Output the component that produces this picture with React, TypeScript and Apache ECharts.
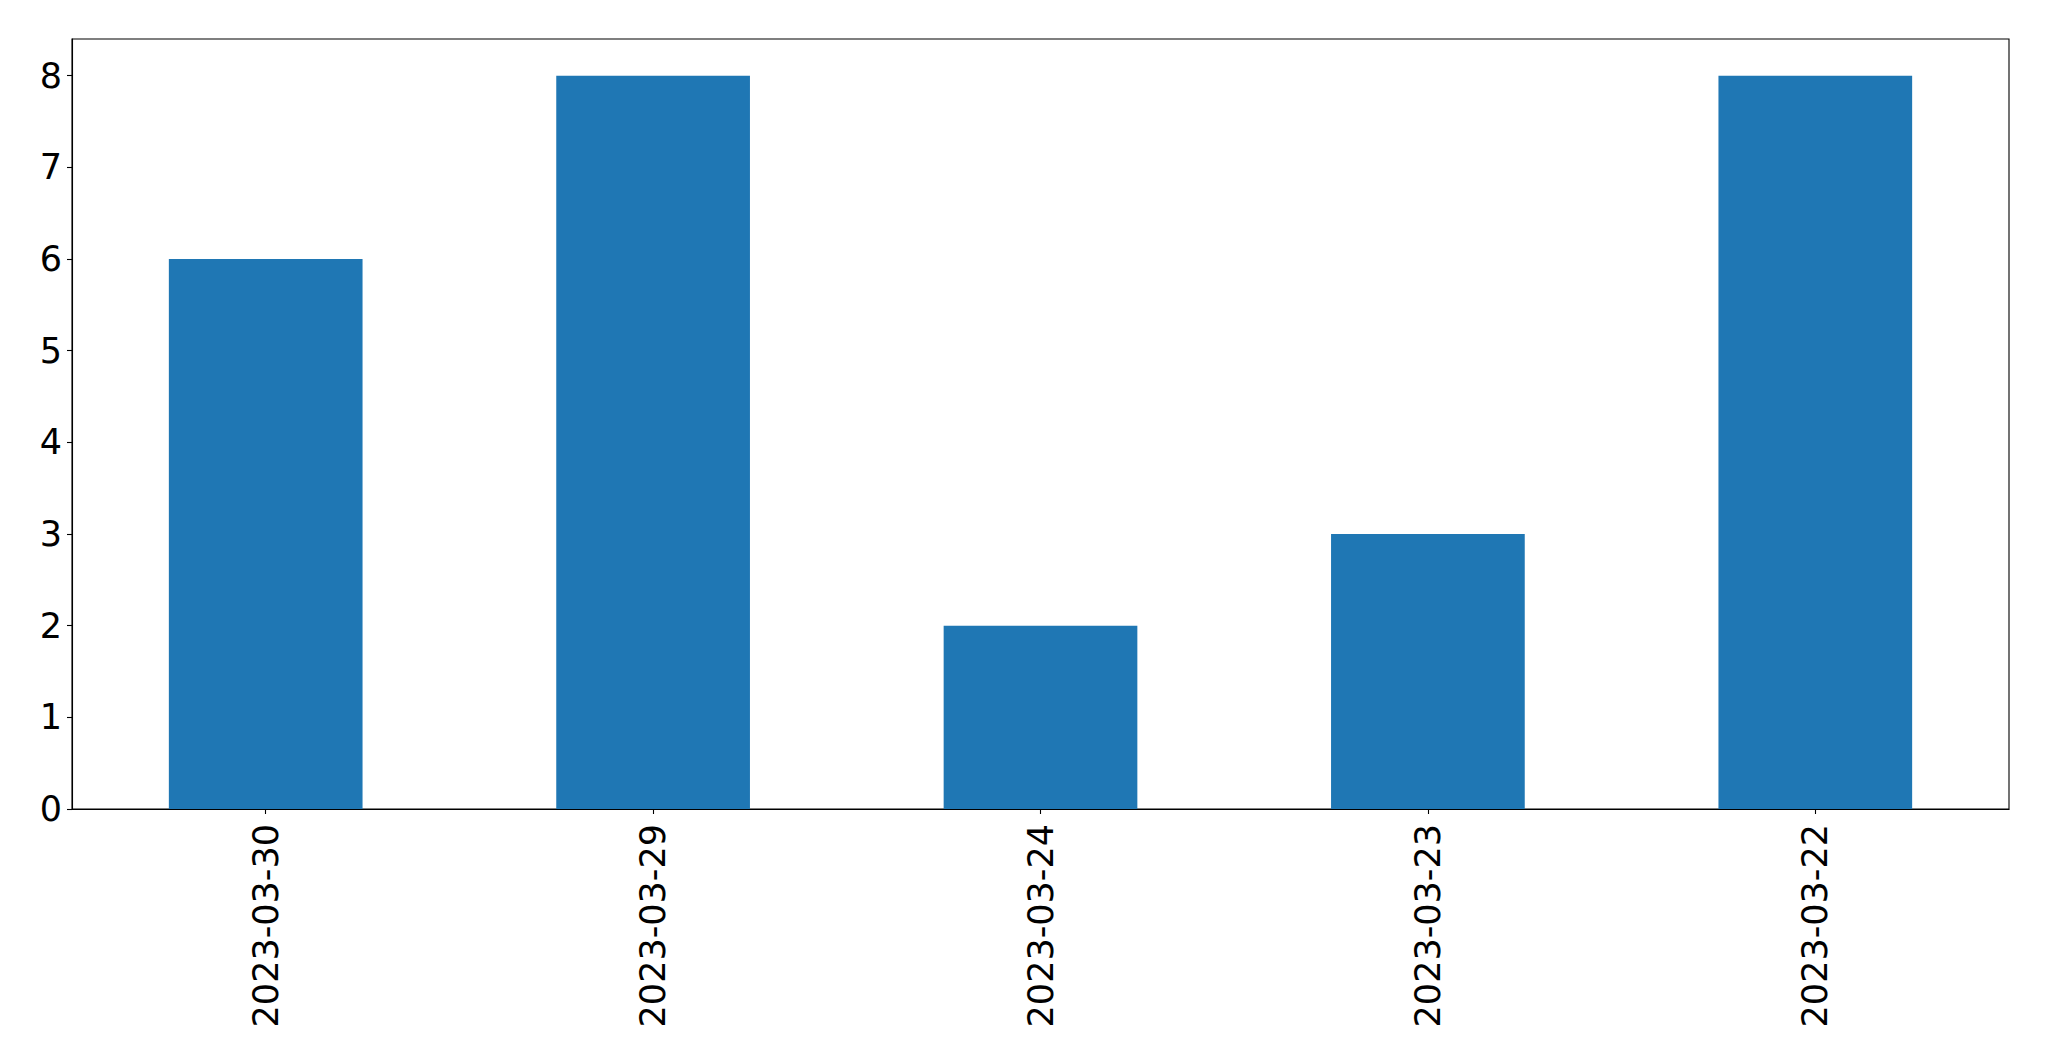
import React, { useEffect, useRef } from "react";
import * as echarts from "echarts";

const categories = ["2023-03-30", "2023-03-29", "2023-03-24", "2023-03-23", "2023-03-22"];
const values = [6, 8, 2, 3, 8];
const yTicks = [0, 1, 2, 3, 4, 5, 6, 7, 8];

export default function App() {
  const ref = useRef<HTMLDivElement>(null);
  useEffect(() => {
    document.body.style.margin = "0";
    const chart = echarts.init(ref.current!, null, { renderer: "svg" });
    const font = "DejaVu Sans";
    chart.setOption({
      animation: false,
      backgroundColor: "#ffffff",
      grid: {
        left: 72,
        top: 39,
        width: 1937,
        height: 770,
        show: true,
        borderColor: "#000000",
        borderWidth: 1.1,
        backgroundColor: "transparent",
      },
      xAxis: {
        type: "category",
        data: categories,
        axisLine: { show: true, lineStyle: { color: "#000", width: 1.1 } },
        axisTick: { show: true, alignWithLabel: true, length: 5, lineStyle: { color: "#000", width: 1.1 } },
        axisLabel: {
          rotate: 90,
          margin: 15,
          fontSize: 35,
          fontFamily: font,
          color: "#000",
          interval: 0,
        },
        splitLine: { show: false },
      },
      yAxis: {
        type: "value",
        min: 0,
        max: 8.4,
        interval: 1,
        axisLine: { show: true, lineStyle: { color: "#000", width: 1.1 } },
        axisTick: { show: true, length: 5, customValues: yTicks, lineStyle: { color: "#000", width: 1.1 } },
        axisLabel: {
          margin: 10,
          fontSize: 35,
          fontFamily: font,
          color: "#000",
          customValues: yTicks,
        },
        splitLine: { show: false },
      },
      series: [
        {
          type: "bar",
          data: values,
          barWidth: "50%",
          itemStyle: { color: "#1f77b4" },
        },
      ],
    });
    return () => chart.dispose();
  }, []);
  return <div ref={ref} style={{ width: 2049, height: 1061 }} />;
}
